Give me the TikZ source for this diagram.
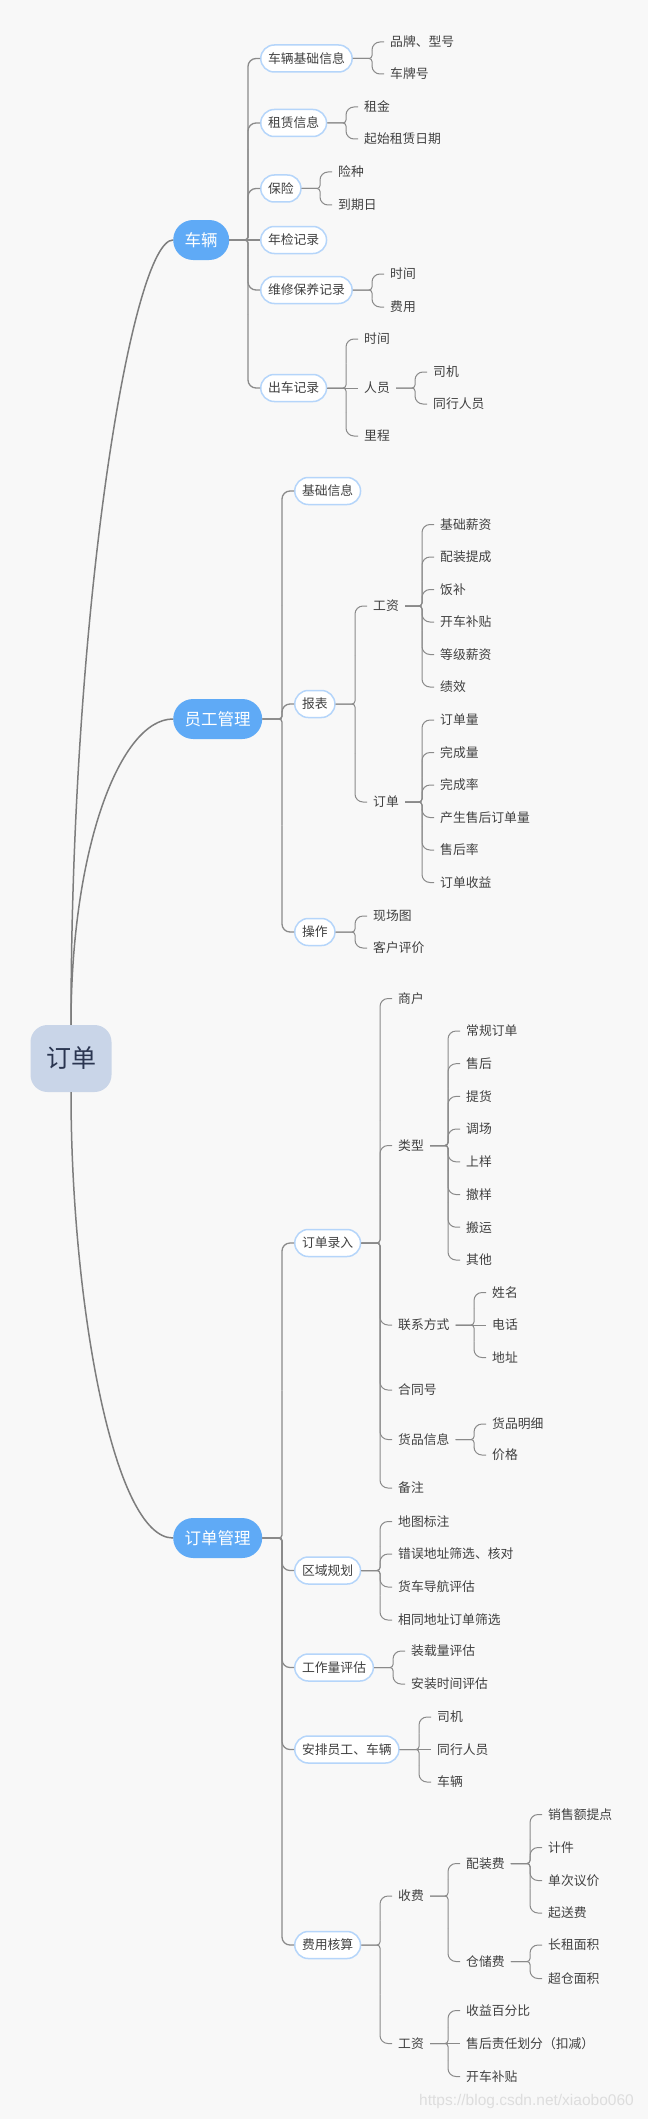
\documentclass[tikz,border=0pt]{standalone}
\usepackage{fontspec}
\usetikzlibrary{calc}
\setmainfont{Noto Sans CJK SC}
\newfontfamily\wmfont{Liberation Sans}
\definecolor{bg}{HTML}{F8F8F8}
\definecolor{rootfill}{HTML}{C9D5E8}
\definecolor{roottxt}{HTML}{2A3550}
\definecolor{lonefill}{HTML}{5FAAF6}
\definecolor{ltwoborder}{HTML}{B5D5FA}
\definecolor{txt}{HTML}{404040}
\definecolor{lin}{HTML}{8A8A8A}
\definecolor{rlin}{HTML}{7D7D7D}
\definecolor{wm}{HTML}{DDDDDD}
\newcommand\fsz[1]{\fontsize{#1}{#1}\selectfont}
\tikzset{
  rootnode/.style={fill=rootfill, text=roottxt, rounded corners=17pt, minimum width=81pt, minimum height=67pt, inner sep=0pt, font=\fsz{25}},
  lone/.style={fill=lonefill, text=white, rounded corners=20pt, minimum height=40pt, inner xsep=11.5pt, inner ysep=0pt, anchor=west, font=\fsz{16.5}},
  ltwo/.style={draw=ltwoborder, line width=1.5pt, fill=white, text=txt, rounded corners=13.5pt, minimum height=27pt, inner xsep=7.3pt, inner ysep=0pt, anchor=west, font=\fsz{12.8}},
  leaf/.style={anchor=west, inner xsep=6pt, inner ysep=2pt, text=txt, font=\fsz{12.8}},
  rootline/.style={draw=rlin, line width=1.5pt},
  br/.style={draw=lin, line width=1pt},
  brone/.style={draw=lin, line width=1.3pt},
}
\newcommand\brc[3][br]{%
  \coordinate (tmpT) at ([xshift=-12pt]#3.west);
  \coordinate (tmpJ) at (tmpT |- #2.east);
  \coordinate (tmpM) at ($(tmpJ)!0.5!(tmpT)$);
  \draw[#1, rounded corners=3pt] (#2.east) -- (tmpJ) -- (tmpM);
  \draw[#1, rounded corners=8pt] (tmpM) -- (tmpT) -- (#3.west);}
\newcommand\brs[3][br]{\draw[#1] (#2.east) -- (#3.west);}
\begin{document}
\begin{tikzpicture}[x=1pt,y=-1pt]
\fill[bg] (0,0) rectangle (648,2119);
\useasboundingbox (0,0) rectangle (648,2119);

% root and level 1
\node[rootnode] (root) at (71,1058.5) {订单};
\node[lone] (car) at (173,240) {车辆};
\node[lone] (emp) at (173,719) {员工管理};
\node[lone] (ord) at (173,1538) {订单管理};
\draw[rootline] (root.north) .. controls +(0,-426) and +(-40,0) .. (car.west);
\draw[rootline] (root.north) .. controls +(0,-176) and +(-53,0) .. (emp.west);
\draw[rootline] (root.south) .. controls +(0,208) and +(-60,0) .. (ord.west);

% ===== 车辆 =====
\node[ltwo] (c1) at (260,58.5) {车辆基础信息};
\node[ltwo] (c2) at (260,123) {租赁信息};
\node[ltwo] (c3) at (260,188.5) {保险};
\node[ltwo] (c4) at (260,240) {年检记录};
\node[ltwo] (c5) at (260,290) {维修保养记录};
\node[ltwo] (c6) at (260,388) {出车记录};
\brc[brone]{car}{c1}
\brc[brone]{car}{c2}
\brc[brone]{car}{c3}
\brs[brone]{car}{c4}
\brc[brone]{car}{c5}
\brc[brone]{car}{c6}

\node[leaf] (c1a) at (384,42) {品牌、型号};
\node[leaf] (c1b) at (384,74) {车牌号};
\brc{c1}{c1a} \brc{c1}{c1b}
\node[leaf] (c2a) at (358,107) {租金};
\node[leaf] (c2b) at (358,139) {起始租赁日期};
\brc{c2}{c2a} \brc{c2}{c2b}
\node[leaf] (c3a) at (332,172) {险种};
\node[leaf] (c3b) at (332,205) {到期日};
\brc{c3}{c3a} \brc{c3}{c3b}
\node[leaf] (c5a) at (384,274) {时间};
\node[leaf] (c5b) at (384,307) {费用};
\brc{c5}{c5a} \brc{c5}{c5b}
\node[leaf] (c6a) at (358,339) {时间};
\node[leaf] (c6b) at (358,388) {人员};
\node[leaf] (c6c) at (358,436) {里程};
\brc{c6}{c6a} \brs{c6}{c6b} \brc{c6}{c6c}
\node[leaf] (c6b1) at (427,372) {司机};
\node[leaf] (c6b2) at (427,404) {同行人员};
\brc{c6b}{c6b1} \brc{c6b}{c6b2}

% ===== 员工管理 =====
\node[ltwo] (e1) at (294,491) {基础信息};
\node[ltwo] (e2) at (294,704) {报表};
\node[ltwo] (e3) at (294,932) {操作};
\brc[brone]{emp}{e1}
\brc[brone]{emp}{e2}
\brc[brone]{emp}{e3}

\node[leaf] (e2a) at (367,606) {工资};
\node[leaf] (e2b) at (367,802) {订单};
\brc{e2}{e2a} \brc{e2}{e2b}
\node[leaf] (g1) at (434,524.5) {基础薪资};
\node[leaf] (g2) at (434,557) {配装提成};
\node[leaf] (g3) at (434,589.5) {饭补};
\node[leaf] (g4) at (434,622) {开车补贴};
\node[leaf] (g5) at (434,654.5) {等级薪资};
\node[leaf] (g6) at (434,687) {绩效};
\brc{e2a}{g1} \brc{e2a}{g2} \brc{e2a}{g3} \brc{e2a}{g4} \brc{e2a}{g5} \brc{e2a}{g6}
\node[leaf] (h1) at (434,720) {订单量};
\node[leaf] (h2) at (434,752.5) {完成量};
\node[leaf] (h3) at (434,785) {完成率};
\node[leaf] (h4) at (434,817.5) {产生售后订单量};
\node[leaf] (h5) at (434,850) {售后率};
\node[leaf] (h6) at (434,882.5) {订单收益};
\brc{e2b}{h1} \brc{e2b}{h2} \brc{e2b}{h3} \brc{e2b}{h4} \brc{e2b}{h5} \brc{e2b}{h6}
\node[leaf] (e3a) at (367,916) {现场图};
\node[leaf] (e3b) at (367,948) {客户评价};
\brc{e3}{e3a} \brc{e3}{e3b}

% ===== 订单管理 =====
\node[ltwo] (o1) at (294,1243) {订单录入};
\node[ltwo] (o2) at (294,1570.5) {区域规划};
\node[ltwo] (o3) at (294,1667.5) {工作量评估};
\node[ltwo] (o4) at (294,1749.5) {安排员工、车辆};
\node[ltwo] (o5) at (294,1945) {费用核算};
\brc[brone]{ord}{o1}
\brc[brone]{ord}{o2}
\brc[brone]{ord}{o3}
\brc[brone]{ord}{o4}
\brc[brone]{ord}{o5}

\node[leaf] (o1a) at (392,998.5) {商户};
\node[leaf] (o1b) at (392,1145.5) {类型};
\node[leaf] (o1c) at (392,1325) {联系方式};
\node[leaf] (o1d) at (392,1390) {合同号};
\node[leaf] (o1e) at (392,1439.5) {货品信息};
\node[leaf] (o1f) at (392,1488) {备注};
\brc{o1}{o1a} \brc{o1}{o1b} \brc{o1}{o1c} \brc{o1}{o1d} \brc{o1}{o1e} \brc{o1}{o1f}
\node[leaf] (t1) at (460,1031) {常规订单};
\node[leaf] (t2) at (460,1063.7) {售后};
\node[leaf] (t3) at (460,1096.4) {提货};
\node[leaf] (t4) at (460,1129) {调场};
\node[leaf] (t5) at (460,1161.8) {上样};
\node[leaf] (t6) at (460,1194.5) {撤样};
\node[leaf] (t7) at (460,1227.2) {搬运};
\node[leaf] (t8) at (460,1260) {其他};
\brc{o1b}{t1} \brc{o1b}{t2} \brc{o1b}{t3} \brc{o1b}{t4} \brc{o1b}{t5} \brc{o1b}{t6} \brc{o1b}{t7} \brc{o1b}{t8}
\node[leaf] (k1) at (486,1292.5) {姓名};
\node[leaf] (k2) at (486,1325) {电话};
\node[leaf] (k3) at (486,1357.5) {地址};
\brc{o1c}{k1} \brs{o1c}{k2} \brc{o1c}{k3}
\node[leaf] (p1) at (486,1424) {货品明细};
\node[leaf] (p2) at (486,1455) {价格};
\brc{o1e}{p1} \brc{o1e}{p2}

\node[leaf] (r1) at (392,1521.5) {地图标注};
\node[leaf] (r2) at (392,1554) {错误地址筛选、核对};
\node[leaf] (r3) at (392,1587) {货车导航评估};
\node[leaf] (r4) at (392,1620) {相同地址订单筛选};
\brc{o2}{r1} \brc{o2}{r2} \brc{o2}{r3} \brc{o2}{r4}

\node[leaf] (w1) at (405,1651) {装载量评估};
\node[leaf] (w2) at (405,1684) {安装时间评估};
\brc{o3}{w1} \brc{o3}{w2}

\node[leaf] (a1) at (431,1717) {司机};
\node[leaf] (a2) at (431,1749.5) {同行人员};
\node[leaf] (a3) at (431,1782) {车辆};
\brc{o4}{a1} \brs{o4}{a2} \brc{o4}{a3}

\node[leaf] (f1) at (392,1896) {收费};
\node[leaf] (f2) at (392,2043.5) {工资};
\brc{o5}{f1} \brc{o5}{f2}
\node[leaf] (f1a) at (460,1863.5) {配装费};
\node[leaf] (f1b) at (460,1961.5) {仓储费};
\brc{f1}{f1a} \brc{f1}{f1b}
\node[leaf] (m1) at (542,1814.5) {销售额提点};
\node[leaf] (m2) at (542,1847.5) {计件};
\node[leaf] (m3) at (542,1880.5) {单次议价};
\node[leaf] (m4) at (542,1913) {起送费};
\brc{f1a}{m1} \brc{f1a}{m2} \brc{f1a}{m3} \brc{f1a}{m4}
\node[leaf] (s1) at (542,1945) {长租面积};
\node[leaf] (s2) at (542,1978.5) {超仓面积};
\brc{f1b}{s1} \brc{f1b}{s2}
\node[leaf] (q1) at (460,2010.5) {收益百分比};
\node[leaf] (q2) at (460,2043.5) {售后责任划分（扣减）};
\node[leaf] (q3) at (460,2076.5) {开车补贴};
\brc{f2}{q1} \brs{f2}{q2} \brc{f2}{q3}

% watermark
\node[anchor=west, inner sep=0pt, text=wm, font=\wmfont\fsz{15.5}] (wmk) at (419,2101) {https://blog.csdn.net/xiaobo060};
\end{tikzpicture}
\end{document}
